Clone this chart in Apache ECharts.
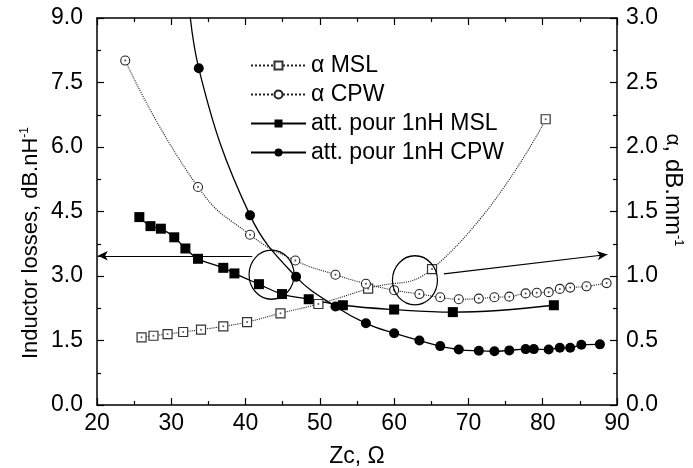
<!DOCTYPE html>
<html>
<head>
<meta charset="utf-8">
<script src="https://cdn.jsdelivr.net/npm/echarts@6/dist/echarts.min.js"></script>
<style>
  html, body { margin: 0; padding: 0; background: #fff; }
  #main { width: 693px; height: 468px; }
</style>
</head>
<body>
<div id="main"></div>
<script>
// Zc (ohm) / values
var zcAlphaMsl = [26.0, 27.6, 29.5, 31.6, 34.0, 37.0, 40.2, 44.7, 49.8, 56.5, 65.1, 80.4];
var alphaMsl   = [0.525, 0.537, 0.55, 0.566, 0.584, 0.61, 0.643, 0.711, 0.783, 0.902, 1.054, 2.215];

var zcAlphaCpw = [23.8, 33.6, 40.6, 46.7, 52.1, 56.2, 60.0, 63.4, 66.2, 68.7, 71.4, 73.5, 75.5, 77.7, 79.2, 80.8, 82.3, 83.7, 85.9, 88.6];
var alphaCpw   = [2.67, 1.69, 1.32, 1.12, 1.01, 0.94, 0.89, 0.86, 0.835, 0.82, 0.825, 0.835, 0.84, 0.865, 0.87, 0.875, 0.90, 0.91, 0.92, 0.945];

var zcAttMsl = [25.7, 27.2, 28.6, 30.4, 31.9, 33.6, 37.0, 38.5, 41.8, 44.9, 48.5, 53.1, 60.0, 67.9, 81.5];
var attMsl   = [4.37, 4.16, 4.10, 3.90, 3.64, 3.40, 3.19, 3.06, 2.81, 2.58, 2.46, 2.32, 2.22, 2.16, 2.32];

// first point lies above the plot (curve enters from the top)
var zcAttCpw = [31.9, 33.7, 40.6, 46.8, 52.1, 56.2, 60.0, 63.4, 66.2, 68.7, 71.4, 73.5, 75.5, 77.7, 78.8, 80.8, 82.3, 83.7, 85.2, 87.7];
var attCpw   = [10.5, 7.83, 4.41, 2.98, 2.29, 1.90, 1.67, 1.50, 1.37, 1.29, 1.26, 1.25, 1.27, 1.30, 1.30, 1.29, 1.33, 1.33, 1.40, 1.41];

var seriesNames = ['\u03b1 MSL', '\u03b1 CPW', 'att. pour 1nH MSL', 'att. pour 1nH CPW'];
var xTicks = [20, 30, 40, 50, 60, 70, 80, 90];

// annotation (data units, left axis): circles and arrows
var marks = {
  circles: [[43.5, 3.03], [62.8, 2.90]],
  arrows: [[[40.9, 3.47], [20.1, 3.47]], [[66.7, 3.05], [88.7, 3.50]]]
};

function pairs(xs, ys) {
  var out = [];
  for (var i = 0; i < xs.length; i++) out.push([xs[i], ys[i]]);
  return out;
}

var font = "'Liberation Sans', Arial, sans-serif";
var black = '#000';
var fs = 23;

function axisCommon() {
  return {
    axisLine: { show: true, onZero: false, lineStyle: { color: black, width: 1.5 } },
    axisTick: { show: true, inside: true, length: 7, lineStyle: { color: black, width: 1.2 } },
    minorTick: { show: true, splitNumber: 2, length: 4, lineStyle: { color: black, width: 1.2 } },
    splitLine: { show: false },
    minorSplitLine: { show: false }
  };
}

var chart = echarts.init(document.getElementById('main'));

var xBottom = axisCommon();
xBottom.type = 'value'; xBottom.position = 'bottom';
xBottom.min = xTicks[0]; xBottom.max = xTicks[xTicks.length - 1]; xBottom.interval = 10;
xBottom.axisLabel = { color: black, fontSize: fs, fontFamily: font, margin: 7 };
xBottom.name = 'Zc, \u03a9';
xBottom.nameLocation = 'middle';
xBottom.nameGap = 40;
xBottom.nameTextStyle = { color: black, fontSize: fs, fontFamily: font };

var xTop = axisCommon();
xTop.type = 'value'; xTop.position = 'top';
xTop.min = xTicks[0]; xTop.max = xTicks[xTicks.length - 1]; xTop.interval = 10;
xTop.axisLabel = { show: false };

var yLeft = axisCommon();
yLeft.type = 'value'; yLeft.position = 'left';
yLeft.min = 0; yLeft.max = 9; yLeft.interval = 1.5;
yLeft.axisLabel = { color: black, fontSize: fs, fontFamily: font, margin: 14,
  formatter: function (v) { return v.toFixed(1); } };

var yRight = axisCommon();
yRight.type = 'value'; yRight.position = 'right';
yRight.min = 0; yRight.max = 3; yRight.interval = 0.5;
yRight.axisLabel = { color: black, fontSize: fs, fontFamily: font, margin: 9,
  formatter: function (v) { return v.toFixed(1); } };

var arrowData = marks.arrows.map(function (a) {
  return [
    { coord: a[0], symbol: 'none' },
    { coord: a[1], symbol: 'arrow', symbolSize: [7, 10] }
  ];
});

var option = {
  animation: false,
  backgroundColor: '#fff',
  grid: { left: 97, right: 76, top: 18, bottom: 63, containLabel: false, outerBoundsMode: 'none' },
  legend: {
    data: seriesNames,
    orient: 'vertical',
    left: 245,
    top: 49,
    itemWidth: 55,
    itemHeight: 10,
    itemGap: 6,
    textStyle: { color: black, fontSize: fs, fontFamily: font }
  },
  xAxis: [xBottom, xTop],
  yAxis: [yLeft, yRight],
  series: [
    {
      name: seriesNames[0], type: 'line', yAxisIndex: 1, smooth: 0.5,
      data: pairs(zcAlphaMsl, alphaMsl),
      symbol: 'rect', symbolSize: 9, showAllSymbol: true,
      itemStyle: { color: '#fff', borderColor: '#333', borderWidth: 1.2 },
      lineStyle: { color: '#222', width: 1.1, type: 'dotted' }
    },
    {
      name: seriesNames[1], type: 'line', yAxisIndex: 1, smooth: 0.5,
      data: pairs(zcAlphaCpw, alphaCpw),
      symbol: 'circle', symbolSize: 9, showAllSymbol: true,
      itemStyle: { color: '#fff', borderColor: '#222', borderWidth: 1.1 },
      lineStyle: { color: '#222', width: 1.1, type: 'dotted' }
    },
    {
      name: seriesNames[2], type: 'line', smooth: 0.4,
      data: pairs(zcAttMsl, attMsl),
      symbol: 'rect', symbolSize: 10, showAllSymbol: true,
      itemStyle: { color: black },
      lineStyle: { color: black, width: 1.3 },
      markLine: {
        silent: true, animation: false, precision: 3,
        symbol: ['none', 'arrow'],
        label: { show: false },
        itemStyle: { color: black },
        lineStyle: { color: black, width: 1.2, type: 'solid' },
        emphasis: { disabled: true },
        data: arrowData
      }
    },
    {
      name: seriesNames[3], type: 'line', smooth: 0.4,
      data: pairs(zcAttCpw, attCpw),
      symbol: 'circle', symbolSize: 10, showAllSymbol: true,
      itemStyle: { color: black },
      lineStyle: { color: black, width: 1.3 }
    },
    // small centre dots inside the open symbols
    {
      name: 'dotMsl', type: 'scatter', yAxisIndex: 1, silent: true, z: 5,
      data: pairs(zcAlphaMsl, alphaMsl), symbol: 'circle', symbolSize: 2,
      itemStyle: { color: '#333' }
    },
    {
      name: 'dotCpw', type: 'scatter', yAxisIndex: 1, silent: true, z: 5,
      data: pairs(zcAlphaCpw, alphaCpw), symbol: 'circle', symbolSize: 2,
      itemStyle: { color: '#222' }
    }
  ]
};

chart.setOption(option);

// titles with superscripts and the two circles
var graphics = [
  {
    type: 'text', x: 31, y: 243, rotation: Math.PI / 2, z: 10,
    style: {
      text: '{a|Inductor losses, dB.nH}{s|-1}',
      align: 'center', verticalAlign: 'middle',
      rich: {
        a: { fontSize: 22, fontFamily: font, fill: black },
        s: { fontSize: 12, fontFamily: font, fill: black, verticalAlign: 'top', padding: [0, 0, 12, 0] }
      }
    }
  },
  {
    type: 'text', x: 673, y: 190, rotation: -Math.PI / 2, z: 10,
    style: {
      text: '{g|\u03b1}{a|, dB.mm}{s|-1}',
      align: 'center', verticalAlign: 'middle',
      rich: {
        g: { fontSize: 21, fontFamily: font, fill: black },
        a: { fontSize: 24, fontFamily: font, fill: black },
        s: { fontSize: 13, fontFamily: font, fill: black, verticalAlign: 'top', padding: [0, 0, 12, 0] }
      }
    }
  }
];
marks.circles.forEach(function (c) {
  var p = chart.convertToPixel({ xAxisIndex: 0, yAxisIndex: 0 }, c);
  graphics.push({
    type: 'circle', x: p[0], y: p[1], scaleY: 1.09, z: 10, silent: true,
    shape: { cx: 0, cy: 0, r: 22.5 },
    style: { fill: 'none', stroke: black, lineWidth: 1.2 }
  });
});
chart.setOption({ graphic: graphics });
</script>
</body>
</html>
